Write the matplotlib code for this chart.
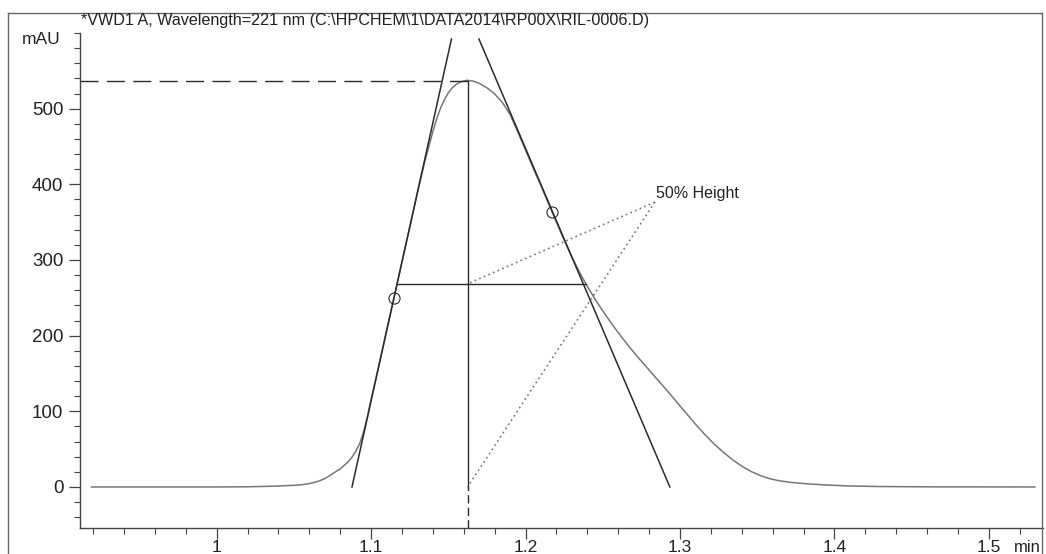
import matplotlib
matplotlib.use("Agg")
import matplotlib.pyplot as plt
from matplotlib.lines import Line2D
from matplotlib.ticker import MultipleLocator

plt.rcParams['font.family'] = ['Liberation Sans', 'DejaVu Sans']

# chromatogram trace (min, mAU)
time = [0.919, 1.000, 1.020, 1.030, 1.040, 1.050, 1.055, 1.060, 1.065, 1.070,
        1.075, 1.080, 1.085, 1.0875, 1.090, 1.0925, 1.095, 1.0975, 1.100, 1.105,
        1.110, 1.115, 1.120, 1.125, 1.130, 1.135, 1.140, 1.1425, 1.145, 1.1475,
        1.150, 1.1525, 1.155, 1.158, 1.162, 1.166, 1.170, 1.175, 1.180, 1.185,
        1.190, 1.195, 1.200, 1.205, 1.210, 1.217, 1.220, 1.225, 1.230, 1.235,
        1.240, 1.245, 1.250, 1.256, 1.262, 1.268, 1.274, 1.280, 1.286, 1.292,
        1.298, 1.304, 1.310, 1.316, 1.322, 1.328, 1.334, 1.340, 1.346, 1.352,
        1.358, 1.364, 1.372, 1.382, 1.395, 1.410, 1.430, 1.460, 1.5297]
signal = [0, 0, 0.3, 0.7, 1.3, 2.2, 3.0, 4.5, 7, 11,
          17.5, 24, 33, 39, 47, 57, 72, 92, 116, 161,
          207, 252, 298, 343, 389, 432, 470, 487, 501, 512,
          521, 527.5, 532, 535.5, 537.5, 536.5, 533.5, 527.5, 519.5, 508,
          492, 469, 445, 421, 398, 364, 349.7, 326.2, 303.9, 283.4,
          264.9, 248.1, 232.6, 215, 198.5, 183, 168.5, 154.5, 140.5, 126.5,
          112, 97.5, 83, 69.5, 57, 46, 36, 27.5, 20.5, 15,
          11, 8.3, 6, 4.2, 2.6, 1.3, 0.6, 0.2, 0]

# peak evaluation marks
peak_time = 1.1624
peak_height = 537
half_height = 268.5
half_width_x = [1.1173, 1.239]
left_tangent_x = [1.0876, 1.1520]
left_tangent_y = [0, 592]
right_tangent_x = [1.1698, 1.2934]
right_tangent_y = [592, 0]
inflection_x = [1.1147, 1.2171]
inflection_y = [250, 363]
label_anchor = (1.2837, 376.5)
label_text = "50% Height"

title = r"*VWD1 A, Wavelength=221 nm (C:\HPCHEM\1\DATA2014\RP00X\RIL-0006.D)"

W, H = 1046, 554
fig = plt.figure(figsize=(W / 100, H / 100), dpi=100)
ax = fig.add_axes([80 / W, (H - 528) / H, 963 / W, 495 / H])

ax.set_xlim(0.9115, 1.535)
ax.set_ylim(-54.2, 600)

dark = '#2b2b2b'
grey = '#777777'

ax.plot(time, signal, color=grey, lw=1.1)
ax.plot(left_tangent_x, left_tangent_y, color=dark, lw=1.1)
ax.plot(right_tangent_x, right_tangent_y, color=dark, lw=1.1)
ax.plot(half_width_x, [half_height, half_height], color=dark, lw=1.0)
ax.plot([peak_time, peak_time], [0, peak_height], color=dark, lw=1.0)
ax.plot([peak_time, peak_time], [-54.2, 0], color=dark, lw=1.0, dashes=(6, 3))
ax.plot([0.9115, peak_time], [peak_height, peak_height], color=dark, lw=1.0,
        dashes=(13, 6))
ax.plot(inflection_x, inflection_y, 'o', ms=8, mfc='none', mec=dark, mew=0.8)

ax.plot([label_anchor[0], peak_time], [label_anchor[1], half_height],
        color=grey, lw=1.2, ls=(0, (1, 2)))
ax.plot([label_anchor[0], peak_time], [label_anchor[1], 0],
        color=grey, lw=1.2, ls=(0, (1, 2)))
ax.text(label_anchor[0] + 0.001, label_anchor[1] + 11, label_text,
        fontsize=11.5, color='#222222', va='center', ha='left')

for s in ['top', 'right']:
    ax.spines[s].set_visible(False)
for s in ['left', 'bottom']:
    ax.spines[s].set_color('#444444')
    ax.spines[s].set_linewidth(1.0)

ax.xaxis.set_minor_locator(MultipleLocator(0.02))
ax.yaxis.set_minor_locator(MultipleLocator(20))
ax.set_xticks([1.0, 1.1, 1.2, 1.3, 1.4, 1.5])
ax.set_xticklabels(['1', '1.1', '1.2', '1.3', '1.4', '1.5'])
ax.set_yticks([0, 100, 200, 300, 400, 500])
ax.tick_params(which='major', length=8, width=0.9, color='#444444',
               labelcolor='#222222')
ax.tick_params(which='minor', length=4, width=0.8, color='#444444')
ax.tick_params(axis='x', which='major', pad=1, labelsize=12.5)
ax.tick_params(axis='y', which='major', pad=4, labelsize=13.5)

fig.text(81 / W, 1 - 20 / H, title, fontsize=11.6, color='#222222',
         va='center', ha='left')
fig.text(22 / W, 1 - 40 / H, "mAU", fontsize=12.5, color='#222222',
         va='center', ha='left')
fig.text(1041 / W, 1 - 547 / H, "min", fontsize=12, color='#222222',
         va='center', ha='right')

# outer report frame
fc = '#666666'
fig.add_artist(Line2D([8 / W, 8 / W], [0, 1 - 13 / H], color=fc, lw=1.0))
fig.add_artist(Line2D([8 / W, 1042 / W], [1 - 13 / H, 1 - 13 / H], color=fc, lw=1.0))
fig.add_artist(Line2D([1042 / W, 1042 / W], [0, 1 - 13 / H], color=fc, lw=1.0))

fig.savefig('out.png', dpi=100)
